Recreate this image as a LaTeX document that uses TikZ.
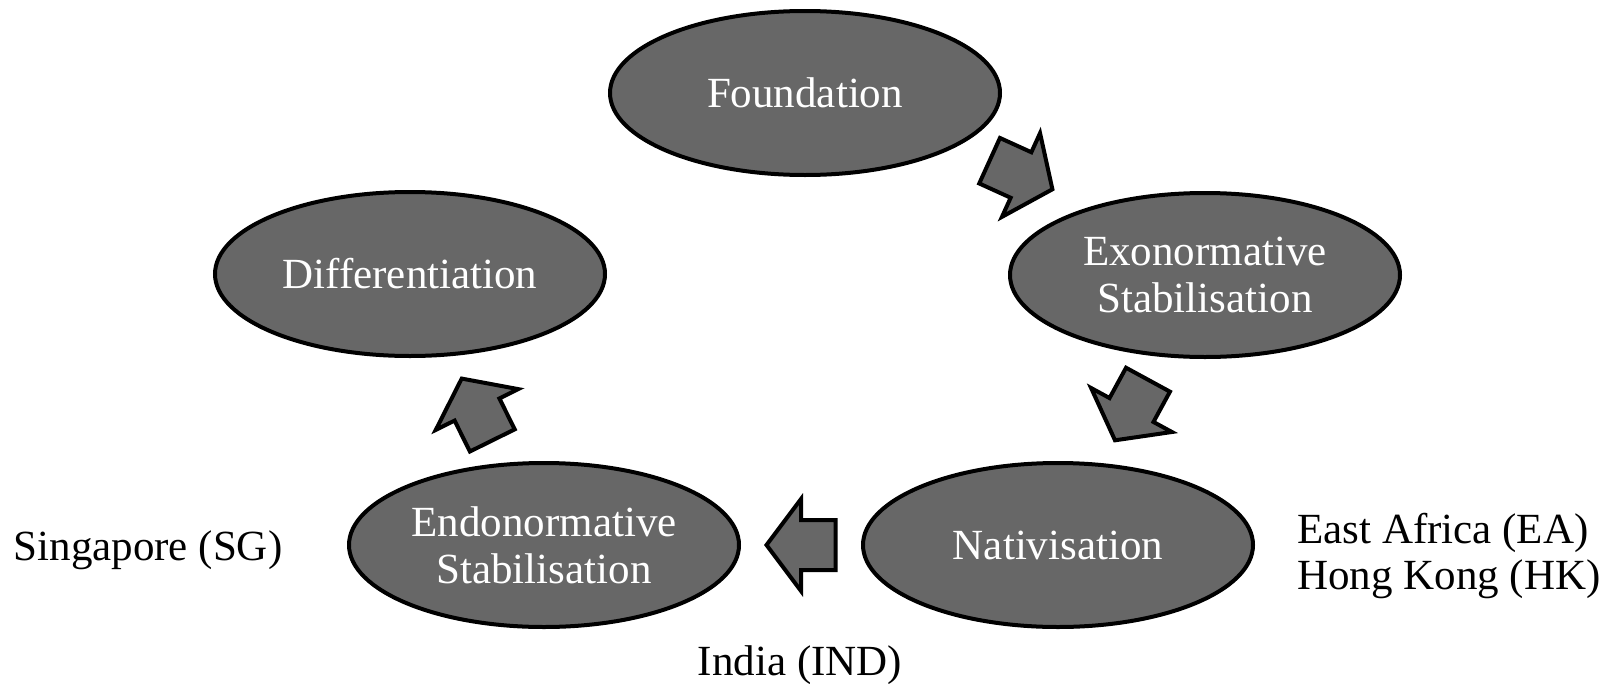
\documentclass[tikz,border=0pt]{standalone}
\usepackage{fontspec}
\setmainfont{Liberation Serif}
\usetikzlibrary{shapes.geometric,calc}
\definecolor{stagefill}{HTML}{676767}
\begin{document}
\begin{tikzpicture}[x=1pt,y=-1pt,
  stage/.style={ellipse, draw=black, line width=4pt, fill=stagefill,
    minimum width=390pt, minimum height=164pt, inner sep=0pt, text=white,
    font=\fontsize{43}{47}\selectfont, align=center},
  lab/.style={font=\fontsize{43}{47}\selectfont, inner sep=0pt, text=black},
  blockarrow/.pic={\draw[line width=4pt, fill=stagefill, line join=miter]
    (-34.5,25) -- (0,25) -- (0,46) -- (34.5,0) -- (0,-46) -- (0,-25) -- (-34.5,-25) -- cycle;}
]
\useasboundingbox[fill=white] (0,0) rectangle (1623,683);

\node[stage] (F) at (805,93) {Foundation};
\node[stage] (E) at (1205,275) {Exonormative\\Stabilisation};
\node[stage] (N) at (1058,545) {Nativisation};
\node[stage] (S) at (544,545) {Endonormative\\Stabilisation};
\node[stage] (D) at (410,274) {Differentiation};

\path let \p1=($(E)-(F)$), \n1={atan2(\y1,\x1)} in
  pic[rotate=\n1] at ($(F)!0.5!(E)+(16,-9)$) {blockarrow};
\path let \p1=($(N)-(E)$), \n1={atan2(\y1,\x1)} in
  pic[rotate=\n1] at ($(E)!0.5!(N)$) {blockarrow};
\path let \p1=($(S)-(N)$), \n1={atan2(\y1,\x1)} in
  pic[rotate=\n1] at ($(N)!0.5!(S)$) {blockarrow};
\path let \p1=($(D)-(S)$), \n1={atan2(\y1,\x1)} in
  pic[rotate=\n1] at ($(S)!0.5!(D)$) {blockarrow};

\node[lab, anchor=base] (sg) at (148,560) {Singapore (SG)};
\node[lab, anchor=base west] (ea) at (1297,543) {East Africa (EA)};
\node[lab, anchor=base west] (hk) at (1297,589) {Hong Kong (HK)};
\node[lab, anchor=base] (ind) at (800,675) {India (IND)};
\end{tikzpicture}
\end{document}
